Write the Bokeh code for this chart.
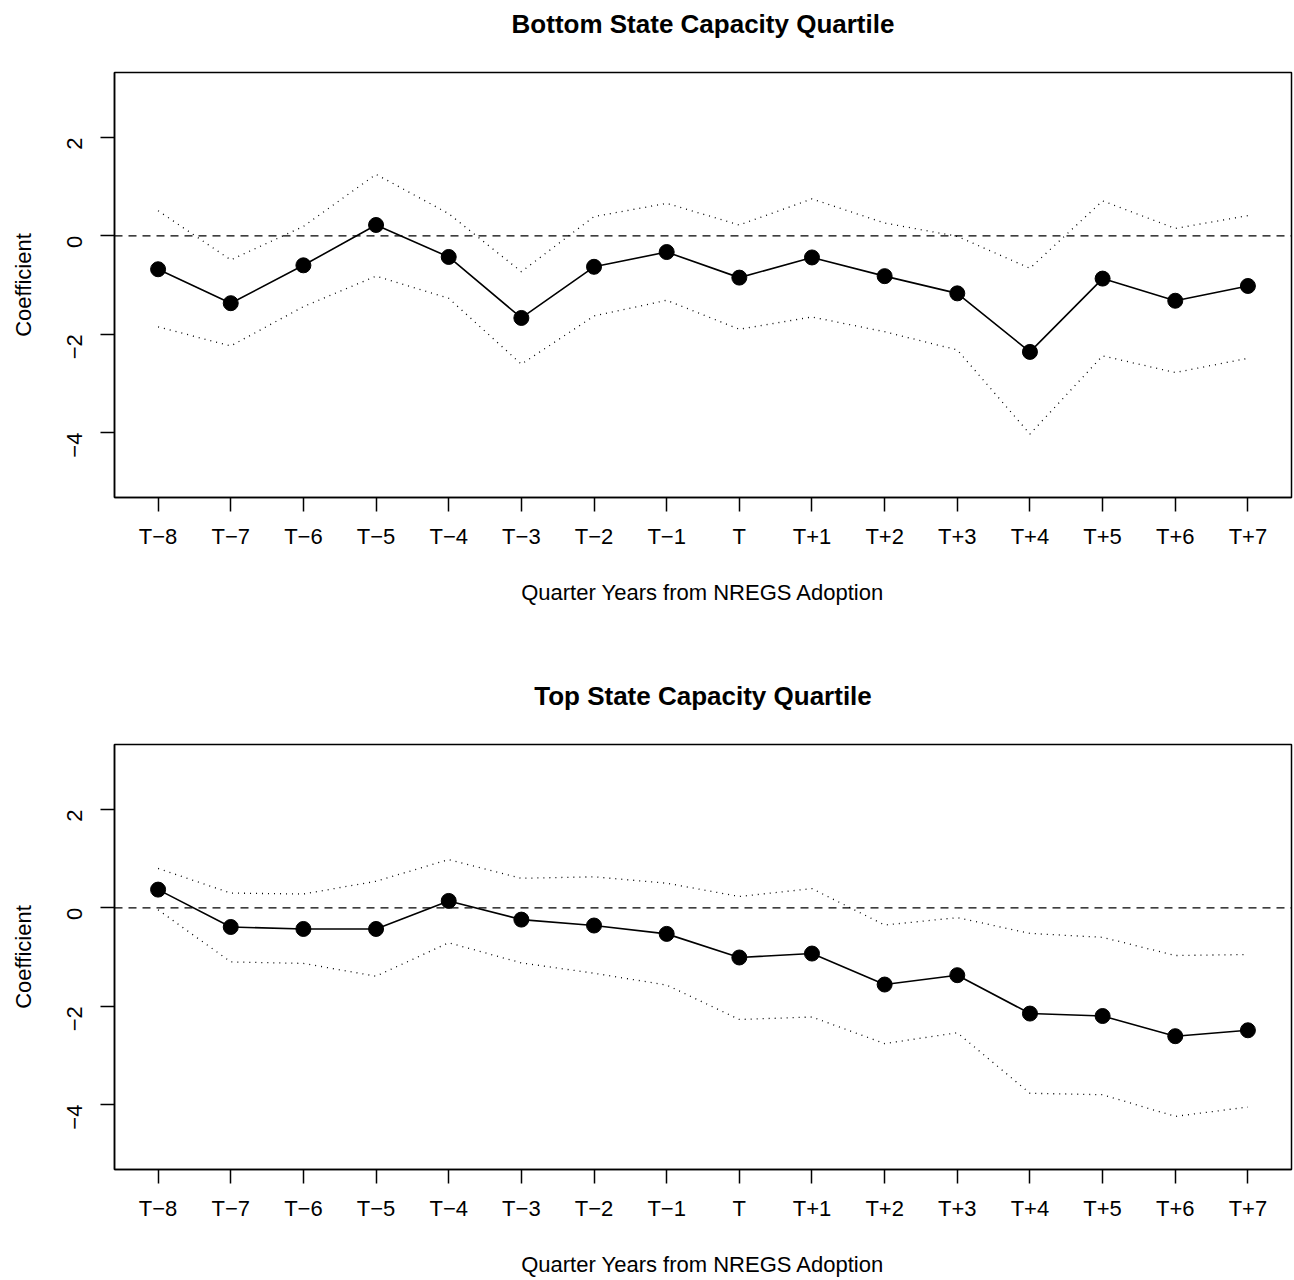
import math
from bokeh.plotting import figure
from bokeh.models import Range1d, FixedTicker, Span, ColumnDataSource
from bokeh.layouts import column
from bokeh.embed import file_html
from bokeh.resources import INLINE

# ---- data -------------------------------------------------------------
quarters = ["T\u22128", "T\u22127", "T\u22126", "T\u22125", "T\u22124", "T\u22123",
            "T\u22122", "T\u22121", "T", "T+1", "T+2", "T+3", "T+4", "T+5",
            "T+6", "T+7"]
offsets = [-8, -7, -6, -5, -4, -3, -2, -1, 0, 1, 2, 3, 4, 5, 6, 7]

y_ticks = [-4, -2, 0, 2]
y_tick_labels = ["\u22124", "\u22122", "0", "2"]

bottom_title = "Bottom State Capacity Quartile"
bottom_coef = [-0.68, -1.37, -0.60, 0.22, -0.43, -1.67, -0.63, -0.33,
               -0.85, -0.44, -0.82, -1.17, -2.36, -0.87, -1.32, -1.02]
bottom_upper = [0.51, -0.49, 0.19, 1.25, 0.45, -0.73, 0.39, 0.66,
                0.22, 0.75, 0.26, -0.01, -0.66, 0.71, 0.15, 0.41]
bottom_lower = [-1.85, -2.24, -1.44, -0.82, -1.27, -2.61, -1.63, -1.31,
                -1.90, -1.65, -1.95, -2.32, -4.03, -2.44, -2.78, -2.49]

top_title = "Top State Capacity Quartile"
top_coef = [0.37, -0.39, -0.43, -0.43, 0.14, -0.24, -0.36, -0.53,
            -1.01, -0.93, -1.56, -1.37, -2.15, -2.20, -2.61, -2.49]
top_upper = [0.80, 0.30, 0.28, 0.54, 0.98, 0.60, 0.63, 0.50,
             0.23, 0.39, -0.35, -0.20, -0.52, -0.60, -0.97, -0.95]
top_lower = [-0.04, -1.10, -1.13, -1.39, -0.71, -1.12, -1.33, -1.57,
             -2.27, -2.22, -2.76, -2.54, -3.77, -3.80, -4.24, -4.05]

x_label = "Quarter Years from NREGS Adoption"
y_label = "Coefficient"

FONT = "Liberation Sans"


def make_panel(title, coef, upper, lower, bottom_border, title_standoff):
    src = ColumnDataSource(dict(x=offsets, coef=coef, upper=upper, lower=lower))
    p = figure(frame_width=1177, frame_height=425,
               x_range=Range1d(-8.6, 7.6), y_range=Range1d(-5.32, 3.32),
               output_backend="svg", toolbar_location=None,
               min_border_left=114, min_border_right=3, min_border_top=72,
               min_border_bottom=bottom_border,
               background_fill_color="white", border_fill_color="white")
    p.grid.visible = False
    p.outline_line_color = "black"
    p.outline_line_width = 1.5
    p.outline_line_alpha = 1.0

    # an empty second line lifts the title away from the frame (R-like gap)
    p.title.text = title + "\n "
    p.title.align = "center"
    p.title.vertical_align = "bottom"
    p.title.text_font = FONT
    p.title.text_font_size = "26px"
    p.title.text_font_style = "bold"
    p.title.text_color = "black"
    p.title.standoff = title_standoff

    # x axis
    xa = p.xaxis[0]
    xa.ticker = FixedTicker(ticks=offsets)
    xa.major_label_overrides = {o: q for o, q in zip(offsets, quarters)}
    xa.axis_label = x_label
    # y axis
    ya = p.yaxis[0]
    ya.ticker = FixedTicker(ticks=y_ticks)
    ya.major_label_overrides = {t: l for t, l in zip(y_ticks, y_tick_labels)}
    ya.axis_label = y_label
    ya.major_label_orientation = math.pi / 2

    for ax in (xa, ya):
        ax.axis_line_color = "black"
        ax.axis_line_width = 1.5
        ax.major_tick_line_color = "black"
        ax.major_tick_line_width = 1.5
        ax.major_tick_out = 14
        ax.major_tick_in = 0
        ax.minor_tick_line_color = None
        ax.major_label_text_font = FONT
        ax.major_label_text_font_size = "22px"
        ax.major_label_text_color = "black"
        ax.axis_label_text_font = FONT
        ax.axis_label_text_font_size = "22px"
        ax.axis_label_text_font_style = "normal"
        ax.axis_label_text_color = "black"
    xa.major_label_standoff = 12
    xa.axis_label_standoff = 28
    ya.major_label_standoff = 26
    ya.axis_label_standoff = 21

    p.line("x", "upper", source=src, line_color="black", line_width=1.3,
           line_dash="1 5")
    p.line("x", "lower", source=src, line_color="black", line_width=1.3,
           line_dash="1 5")
    p.line("x", "coef", source=src, line_color="black", line_width=1.6)
    p.scatter("x", "coef", source=src, size=15, fill_color="black",
              line_color="black")
    p.add_layout(Span(location=0, dimension="width", line_color="black",
                      line_width=1.3, line_dash="8 6"))
    return p


p1 = make_panel(bottom_title, bottom_coef, bottom_upper, bottom_lower, 175, 8)
p2 = make_panel(top_title, top_coef, top_upper, top_lower, 110, 8)

layout = column(p1, p2, spacing=0)
open("out.html", "w").write(file_html(layout, INLINE))
